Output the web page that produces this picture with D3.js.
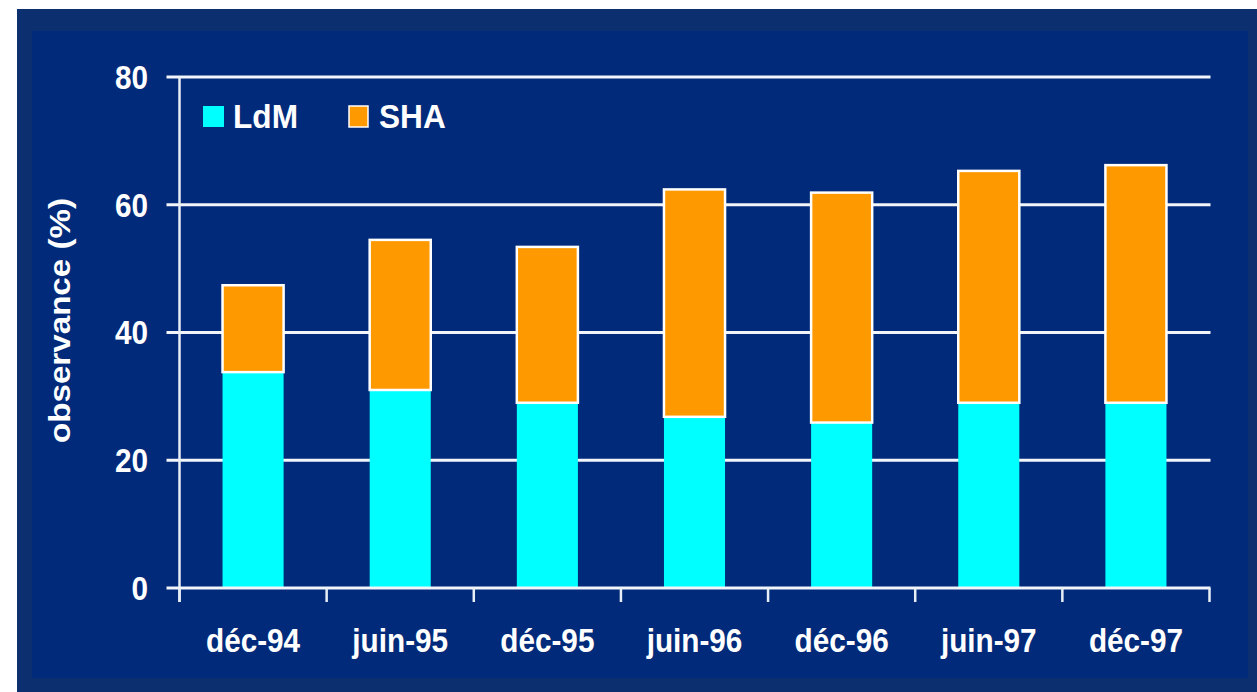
<!DOCTYPE html>
<html>
<head>
<meta charset="utf-8">
<script src="https://cdn.jsdelivr.net/npm/d3@7"></script>
<style>
  html, body { margin: 0; padding: 0; background: #ffffff; }
  svg { display: block; }
  text { font-family: "Liberation Sans", Arial, sans-serif; font-weight: bold; fill: #ffffff; }
</style>
</head>
<body>
<svg id="chart" width="1257" height="692"></svg>
<script>
const categories = ["déc-94", "juin-95", "déc-95", "juin-96", "déc-96", "juin-97", "déc-97"];
const seriesNames = ["LdM", "SHA"];
const ldm = [33.8, 31.0, 29.0, 26.8, 25.9, 29.0, 29.0];
const sha = [13.6, 23.5, 24.4, 35.6, 36.0, 36.3, 37.2];
const yTicks = [0, 20, 40, 60, 80];
const colors = { LdM: "#00ffff", SHA: "#ff9900" };

(function () {
const svg = d3.select("#chart");

// condense text horizontally (reference font is slightly narrow)
function condense(sel, f) {
  sel.each(function () {
    const w = this.getComputedTextLength();
    d3.select(this).attr("textLength", w * f).attr("lengthAdjust", "spacingAndGlyphs");
  });
}

// background frames
svg.append("rect").attr("x", 17).attr("y", 9).attr("width", 1240).attr("height", 683).attr("fill", "#0c2f70");
svg.append("rect").attr("x", 32).attr("y", 31).attr("width", 1216).attr("height", 647).attr("fill", "#012b7a");

const pLeft = 179.5, pRight = 1209.5, pTop = 77, pBottom = 588;
const xs = d3.scaleBand().domain(categories).range([pLeft, pRight]).padding(0);
const y = d3.scaleLinear().domain([0, 80]).range([pBottom, pTop]);
const barFrac = 0.415;

// gridlines (with left tick extension)
svg.append("g").selectAll("line").data(yTicks.filter(t => t > 0)).join("line")
  .attr("x1", pLeft - 13).attr("x2", pRight + 1)
  .attr("y1", d => y(d)).attr("y2", d => y(d))
  .attr("stroke", "#f2f5fa").attr("stroke-width", 3);

// y tick labels
svg.append("g").selectAll("text").data(yTicks).join("text")
  .attr("x", 148).attr("y", d => y(d))
  .attr("dy", "0.36em")
  .attr("text-anchor", "end")
  .attr("font-size", 33)
  .text(d => d)
  .call(condense, 0.9);

// stacked data
const table = categories.map((c, i) => ({ cat: c, LdM: ldm[i], SHA: sha[i] }));
const stack = d3.stack().keys(seriesNames)(table);

const bw = xs.bandwidth() * barFrac;
stack.forEach(layer => {
  svg.append("g").selectAll("rect").data(layer).join("rect")
    .attr("x", d => xs(d.data.cat) + (xs.bandwidth() - bw) / 2)
    .attr("width", bw)
    .attr("y", d => y(d[1]))
    .attr("height", d => y(d[0]) - y(d[1]))
    .attr("fill", colors[layer.key])
    .attr("stroke", layer.key === "SHA" ? "#ffffff" : "none")
    .attr("stroke-width", 2.5);
});

// axes lines
svg.append("line").attr("x1", pLeft).attr("x2", pLeft).attr("y1", pTop).attr("y2", pBottom + 14)
  .attr("stroke", "#e8eef6").attr("stroke-width", 2.5);
svg.append("line").attr("x1", pLeft - 13).attr("x2", pRight + 1).attr("y1", pBottom).attr("y2", pBottom)
  .attr("stroke", "#f2f5fa").attr("stroke-width", 3);

// x ticks at slot boundaries
const boundaries = categories.map(c => xs(c)).concat([xs(categories[categories.length - 1]) + xs.bandwidth()]);
svg.append("g").selectAll("line").data(boundaries).join("line")
  .attr("x1", d => d).attr("x2", d => d)
  .attr("y1", pBottom).attr("y2", pBottom + 14)
  .attr("stroke", "#e8eef6").attr("stroke-width", 2.5);

// x labels
svg.append("g").selectAll("text").data(categories).join("text")
  .attr("x", d => xs(d) + xs.bandwidth() / 2)
  .attr("y", 652)
  .attr("text-anchor", "middle")
  .attr("font-size", 33)
  .text(d => d)
  .call(condense, 0.9);

// y title
svg.append("text")
  .attr("transform", "translate(70,320.5) rotate(-90)")
  .attr("text-anchor", "middle")
  .attr("font-size", 30)
  .attr("textLength", 245)
  .attr("lengthAdjust", "spacingAndGlyphs")
  .text("observance (%)");

// legend
const legendX = [203, 349];
const legend = svg.append("g");
seriesNames.forEach((s, i) => {
  legend.append("rect")
    .attr("x", legendX[i]).attr("y", 106)
    .attr("width", i === 0 ? 21 : 19).attr("height", 21)
    .attr("fill", colors[s])
    .attr("stroke", i === 0 ? "none" : "#ffffff").attr("stroke-width", 1.5);
  legend.append("text")
    .attr("x", legendX[i] + 30).attr("y", 128)
    .attr("font-size", 34)
    .text(s)
    .call(condense, 0.93);
});
})();
</script>
</body>
</html>
